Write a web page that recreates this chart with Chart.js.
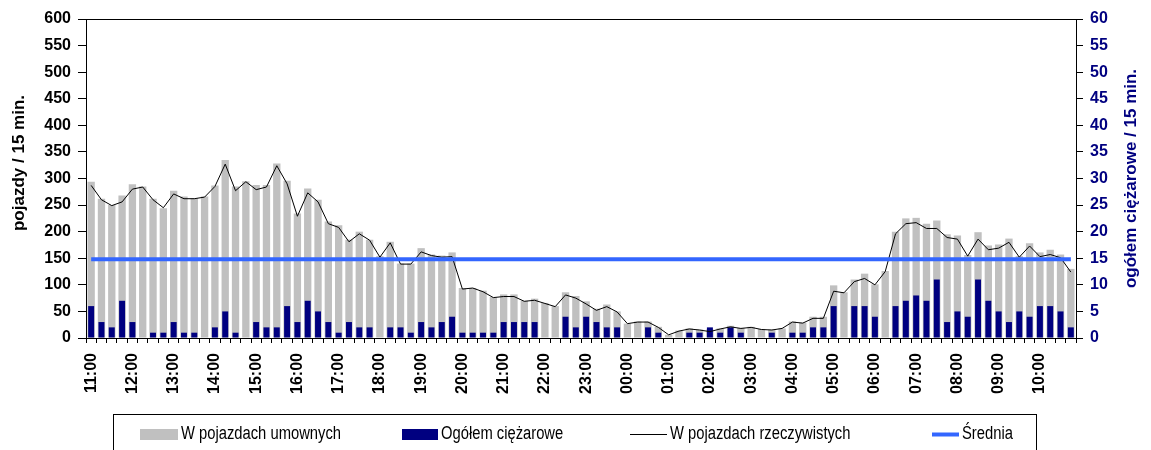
<!DOCTYPE html>
<html>
<head>
<meta charset="utf-8">
<script src="https://cdn.jsdelivr.net/npm/chart.js@4.4.1/dist/chart.umd.min.js"></script>
<style>
html,body{margin:0;padding:0;background:#fff;}
#wrap{width:1151px;height:450px;}
</style>
</head>
<body>
<div id="wrap"><canvas id="c" width="1151" height="450"></canvas></div>
<script>
// ---- data ----
const hourLabels = ['11:00','12:00','13:00','14:00','15:00','16:00','17:00','18:00','19:00','20:00','21:00','22:00',
  '23:00','00:00','01:00','02:00','03:00','04:00','05:00','06:00','07:00','08:00','09:00','10:00'];
const quarterLabels = ['00','15','30','45'];

// W pojazdach umownych (left axis)
const umowne = [294,262,250,268,289,285,262,244,277,266,263,266,287,335,285,295,288,288,328,296,234,281,260,219,212,
  185,200,185,154,181,140,140,169,157,155,161,94,94,89,77,82,82,70,74,66,60,86,79,69,
  55,63,50,27,31,31,21,6,14,18,16,16,18,23,19,21,17,16,18,31,29,40,40,99,
  86,110,121,101,126,200,225,226,215,221,195,193,156,199,174,176,187,154,178,161,166,157,130];

// Ogółem ciężarowe (right axis)
const ciezarowe = [6,3,2,7,3,0,1,1,3,1,1,0,2,5,1,0,3,2,2,6,3,7,5,3,1,
  3,2,2,0,2,2,1,3,2,3,4,1,1,1,1,3,3,3,3,0,0,4,2,4,
  3,2,2,0,0,2,1,0,0,1,1,2,1,2,1,0,0,1,0,1,1,2,2,6,
  0,6,6,4,0,6,7,8,7,11,3,5,4,11,7,5,3,5,4,6,6,5,2];

// W pojazdach rzeczywistych (left axis)
const rzeczywiste = [287,260,249,256,280,284,260,245,271,262,262,265,285,327,277,294,279,284,324,290,229,273,256,215,208,
  181,196,184,152,179,139,139,162,155,152,153,92,94,87,76,78,78,69,71,65,59,81,75,64,
  52,59,49,27,30,30,20,6,13,17,15,12,17,21,18,20,16,15,18,30,28,37,37,88,
  85,106,112,100,125,196,215,217,206,206,189,186,154,186,166,169,180,152,173,153,157,151,124];

// Średnia (left axis)
const sredniaValue = 148;

const leftAxis = {min:0, max:600, step:50};
const rightAxis = {min:0, max:60, step:5};

// ---- build ----
const categories = [];
hourLabels.forEach(h => quarterLabels.forEach(q => categories.push(h.slice(0,3) + q)));
const sredniaSeries = categories.map(() => sredniaValue);

const FONT = '"Liberation Sans", Arial, sans-serif';
const tickFont = {family: FONT, size: 16, weight: 'bold'};

let narrowOK = null;
function hasNarrow(ctx){
  if (narrowOK !== null) return narrowOK;
  ctx.save();
  ctx.font = '18px "Liberation Sans Narrow", monospace';
  const a = ctx.measureText('W pojazdach umownych').width;
  ctx.font = '18px monospace';
  const b = ctx.measureText('W pojazdach umownych').width;
  ctx.restore();
  narrowOK = Math.abs(a - b) > 0.5;
  return narrowOK;
}

const decor = {
  id: 'decor',
  afterDraw(chart){
    const ctx = chart.ctx, a = chart.chartArea;
    ctx.save();
    // top frame line
    ctx.strokeStyle = '#000'; ctx.lineWidth = 1;
    ctx.beginPath(); ctx.moveTo(a.left, Math.round(a.top) + 0.5); ctx.lineTo(a.right, Math.round(a.top) + 0.5); ctx.stroke();

    // axis titles
    ctx.font = 'bold 17px ' + FONT;
    ctx.textAlign = 'center'; ctx.textBaseline = 'middle';
    ctx.save(); ctx.translate(19, 163); ctx.rotate(-Math.PI/2);
    ctx.fillStyle = '#000'; ctx.fillText('pojazdy / 15 min.', 0, 0); ctx.restore();
    ctx.save(); ctx.translate(1131, (a.top + a.bottom)/2); ctx.rotate(-Math.PI/2);
    ctx.fillStyle = '#000080'; ctx.fillText('ogółem ciężarowe / 15 min.', 0, 0); ctx.restore();

    // legend
    ctx.strokeStyle = '#000'; ctx.lineWidth = 1;
    ctx.strokeRect(113.5, 414.5, 923, 60);
    const items = [{x:140,w:38},{x:402,w:36},{x:630,w:37},{x:932,w:27}];
    const cy = 434;
    const narrow = hasNarrow(ctx);
    chart.data.datasets.forEach((ds, i) => {
      const it = items[i];
      if (ds.type === 'bar') {
        ctx.fillStyle = ds.backgroundColor;
        ctx.fillRect(it.x, cy - 5, it.w, 11);
      } else {
        ctx.strokeStyle = ds.borderColor; ctx.lineWidth = ds.borderWidth;
        ctx.beginPath(); ctx.moveTo(it.x, cy + 0.5); ctx.lineTo(it.x + it.w, cy + 0.5); ctx.stroke();
      }
      ctx.fillStyle = '#000'; ctx.textAlign = 'left'; ctx.textBaseline = 'middle';
      const tx = it.x + it.w + 3;
      if (narrow) {
        ctx.font = '18px "Liberation Sans Narrow"';
        ctx.fillText(ds.label, tx, cy);
      } else {
        ctx.font = '18px ' + FONT;
        ctx.save(); ctx.translate(tx, cy); ctx.scale(0.82, 1); ctx.fillText(ds.label, 0, 0); ctx.restore();
      }
    });
    ctx.restore();
  }
};

new Chart(document.getElementById('c'), {
  data: {
    labels: categories,
    datasets: [
      {type:'bar', label:'W pojazdach umownych', data: umowne, backgroundColor:'#c0c0c0', borderWidth:0,
       yAxisID:'y', barPercentage:0.71, categoryPercentage:1, grouped:false, order:4},
      {type:'bar', label:'Ogółem ciężarowe', data: ciezarowe, backgroundColor:'#000080', borderWidth:0,
       yAxisID:'y1', barPercentage:0.58, categoryPercentage:1, grouped:false, order:3},
      {type:'line', label:'W pojazdach rzeczywistych', data: rzeczywiste, borderColor:'#000000', borderWidth:1,
       pointRadius:0, tension:0, fill:false, yAxisID:'y', order:2},
      {type:'line', label:'Średnia', data: sredniaSeries, borderColor:'#3366ff', borderWidth:4,
       pointRadius:0, tension:0, fill:false, yAxisID:'y', order:1}
    ]
  },
  options: {
    responsive: false,
    animation: false,
    devicePixelRatio: 1,
    layout: {padding: {top: 19, left: 0, right: 0, bottom: 0}},
    plugins: {legend: {display: false}, tooltip: {enabled: false}},
    scales: {
      x: {
        type: 'category',
        offset: true,
        grid: {offset: true, drawOnChartArea: false, tickLength: 5, color: '#000'},
        border: {display: true, color: '#000'},
        ticks: {
          autoSkip: false, maxRotation: 90, minRotation: 90, padding: 10, color: '#000', font: tickFont,
          callback(v, i){ return i % 4 === 0 ? this.getLabelForValue(v) : ''; }
        },
        afterFit(s){ s.height = s.chart.height - 338; }
      },
      y: {
        position: 'left', min: leftAxis.min, max: leftAxis.max,
        ticks: {stepSize: leftAxis.step, padding: 7, color: '#000', font: tickFont},
        grid: {drawOnChartArea: false, tickLength: 8, color: '#000'},
        border: {display: true, color: '#000'},
        afterFit(s){ s.width = 86; }
      },
      y1: {
        position: 'right', min: rightAxis.min, max: rightAxis.max,
        ticks: {stepSize: rightAxis.step, padding: 7, color: '#000080', font: tickFont},
        grid: {drawOnChartArea: false, tickLength: 7, color: '#000'},
        border: {display: true, color: '#000'},
        afterFit(s){ s.width = 75; }
      }
    }
  },
  plugins: [decor]
});
</script>
</body>
</html>
